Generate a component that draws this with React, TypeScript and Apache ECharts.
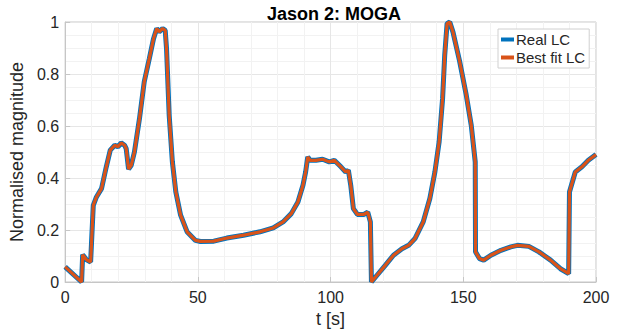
import React, { useEffect, useRef } from "react";
import * as echarts from "echarts";

// time [s]
const timeS = [
  0, 6.2, 6.6, 8.1, 9.6, 10.6, 11.8, 13.7, 15.5, 17.0,
  18.7, 19.9, 21.1, 22.4, 23.0, 23.9, 24.9, 26.1, 28.0, 29.8,
  31.7, 33.3, 34.5, 35.4, 36.7, 37.7, 38.2, 39.2, 40.4, 41.7,
  43.5, 46.0, 49.1,
  51.0, 56, 60.9, 67.2, 73.4, 78.4, 82.1, 85.2, 87.7, 89.6, 90.6, 91.4, 92.3, 94.5, 97, 99.5,
  101.4, 103.9, 105.7, 106.7, 107.6, 108.6, 110.1, 112.6, 114.0, 115.0, 115.4,
  117.5, 120.6, 123.7, 126.9, 129.4, 131.8, 134.9, 137.4, 139.3, 140.9, 142.2, 143.0, 143.9, 144.9, 146.1, 148.6, 151.1, 153.0, 154.5,
  154.6, 156.1, 157.7, 160.4, 164.2, 167.9, 170.4, 174.7, 178.5, 182.9, 186.6, 189.7,
  190.0, 192.2, 194.7, 197.1, 200,
];

// Real light curve (normalised magnitude)
const realLC = [
  0.058, 0, 0.105, 0.085, 0.077, 0.295, 0.327, 0.359, 0.443, 0.507,
  0.526, 0.52, 0.535, 0.526, 0.513, 0.434, 0.449, 0.5, 0.628, 0.77,
  0.859, 0.936, 0.975, 0.962, 0.975, 0.968, 0.897, 0.641, 0.462, 0.346,
  0.257, 0.192, 0.16,
  0.156, 0.157, 0.169, 0.18, 0.193, 0.208, 0.231, 0.263, 0.308, 0.372, 0.423, 0.481, 0.468, 0.468, 0.472, 0.462,
  0.468, 0.443, 0.423, 0.43, 0.372, 0.282, 0.26, 0.26, 0.269, 0.231, 0,
  0.026, 0.064, 0.103, 0.128, 0.141, 0.167, 0.231, 0.321, 0.423, 0.539, 0.705, 0.872, 0.994, 1.0, 0.962, 0.85, 0.72, 0.603, 0.462,
  0.116, 0.09, 0.084, 0.103, 0.122, 0.135, 0.141, 0.137, 0.116, 0.084, 0.051, 0.032,
  0.346, 0.423, 0.443, 0.468, 0.49,
];

// Best fit light curve (overlaps the real one)
const bestFitLC = [
  0.058, 0, 0.105, 0.085, 0.077, 0.295, 0.327, 0.359, 0.443, 0.507,
  0.526, 0.52, 0.535, 0.526, 0.513, 0.434, 0.449, 0.5, 0.628, 0.77,
  0.859, 0.936, 0.975, 0.962, 0.975, 0.968, 0.897, 0.641, 0.462, 0.346,
  0.257, 0.192, 0.16,
  0.156, 0.157, 0.169, 0.18, 0.193, 0.208, 0.231, 0.263, 0.308, 0.372, 0.423, 0.481, 0.468, 0.468, 0.472, 0.462,
  0.468, 0.443, 0.423, 0.43, 0.372, 0.282, 0.26, 0.26, 0.269, 0.231, 0,
  0.026, 0.064, 0.103, 0.128, 0.141, 0.167, 0.231, 0.321, 0.423, 0.539, 0.705, 0.872, 0.994, 1.0, 0.962, 0.85, 0.72, 0.603, 0.462,
  0.116, 0.09, 0.084, 0.103, 0.122, 0.135, 0.141, 0.137, 0.116, 0.084, 0.051, 0.032,
  0.346, 0.423, 0.443, 0.468, 0.49,
];

const FONT = "'Liberation Sans', Arial, Helvetica, sans-serif";
const TEXT = "#262626";
const AXIS = "#c6c6c6";

export default function App() {
  const ref = useRef<HTMLDivElement>(null);
  useEffect(() => {
    if (!ref.current) return;
    const chart = echarts.init(ref.current, undefined, { renderer: "svg" });
    const real = timeS.map((t, i) => [t, realLC[i]]);
    const fit = timeS.map((t, i) => [t, bestFitLC[i]]);
    chart.setOption({
      animation: false,
      backgroundColor: "#ffffff",
      textStyle: { fontFamily: FONT },
      title: {
        text: "Jason 2: MOGA",
        left: 329,
        top: 0,
        textAlign: "center",
        textStyle: { fontFamily: FONT, fontSize: 18, fontWeight: "bold", color: "#000" },
      },
      grid: {
        left: 60,
        right: 31,
        top: 22,
        bottom: 52,
        show: true,
        borderColor: AXIS,
        borderWidth: 1,
        backgroundColor: "transparent",
      },
      legend: {
        orient: "vertical",
        left: 498,
        top: 29,
        padding: [3, 4, 3, 3],
        itemGap: 3,
        itemWidth: 13,
        itemHeight: 4,
        icon: "rect",
        borderColor: "#d0d0d0",
        borderWidth: 1,
        backgroundColor: "#fff",
        textStyle: { fontFamily: FONT, fontSize: 15, color: TEXT, padding: [0, 0, 0, -3] },
        data: ["Real LC", "Best fit LC"],
      },
      xAxis: {
        type: "value",
        min: 0,
        max: 200,
        interval: 50,
        name: "t [s]",
        nameLocation: "middle",
        nameGap: 27,
        nameTextStyle: { fontFamily: FONT, fontSize: 18, color: TEXT },
        axisLine: { show: true, lineStyle: { color: AXIS } },
        axisTick: { show: true, inside: true, length: 5, lineStyle: { color: AXIS } },
        axisLabel: { fontFamily: FONT, fontSize: 16, color: TEXT, margin: 7 },
        splitLine: { show: true, lineStyle: { color: "#e6e6e6" } },
        minorTick: { show: false, splitNumber: 5 },
        minorSplitLine: { show: true, lineStyle: { color: "#f2f2f2" } },
      },
      yAxis: {
        type: "value",
        min: 0,
        max: 1,
        interval: 0.2,
        name: "Normalised magnitude",
        nameLocation: "middle",
        nameGap: 30,
        nameTextStyle: { fontFamily: FONT, fontSize: 18, color: TEXT },
        axisLine: { show: true, lineStyle: { color: AXIS } },
        axisTick: { show: true, inside: true, length: 5, lineStyle: { color: AXIS } },
        axisLabel: { fontFamily: FONT, fontSize: 16, color: TEXT, margin: 6 },
        splitLine: { show: true, lineStyle: { color: "#e6e6e6" } },
        minorTick: { show: false, splitNumber: 4 },
        minorSplitLine: { show: true, lineStyle: { color: "#f2f2f2" } },
      },
      series: [
        {
          name: "Real LC",
          type: "line",
          data: real,
          showSymbol: false,
          symbol: "none",
          color: "#0072BD",
          lineStyle: { color: "#0072BD", width: 5 },
          z: 2,
        },
        {
          name: "Best fit LC",
          type: "line",
          data: fit,
          showSymbol: false,
          symbol: "none",
          color: "#D95319",
          lineStyle: { color: "#D95319", width: 3.2 },
          z: 3,
        },
      ],
    });
    return () => chart.dispose();
  }, []);
  return (
    <div
      ref={ref}
      style={{ position: "fixed", left: 0, top: 0, width: 627, height: 334 }}
    />
  );
}
